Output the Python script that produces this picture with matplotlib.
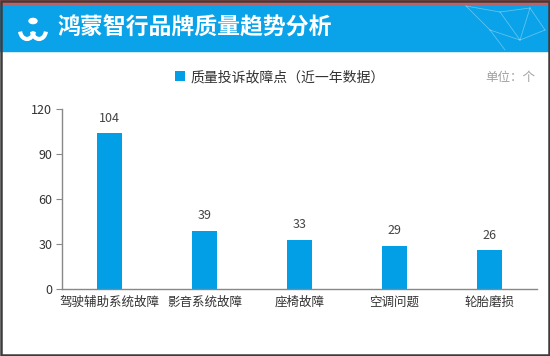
import matplotlib
matplotlib.use("Agg")
import matplotlib.pyplot as plt
from matplotlib.patches import Rectangle, Circle, Arc
from matplotlib.lines import Line2D

plt.rcParams['font.family'] = ['Noto Sans CJK SC', 'DejaVu Sans']

categories = ["驾驶辅助系统故障", "影音系统故障", "座椅故障", "空调问题", "轮胎磨损"]
counts = [104, 39, 33, 29, 26]
yticks = [0, 30, 60, 90, 120]

title = "鸿蒙智行品牌质量趋势分析"
series_name = "质量投诉故障点（近一年数据）"
unit = "单位：个"

bar_color = "#039fe6"
W, H = 550, 356

fig = plt.figure(figsize=(5.5, 3.56), dpi=100)
fig.patch.set_facecolor("white")

# header: red strip + blue band
fig.patches.append(Rectangle((0, 1 - 5 / H), 1, 5 / H, transform=fig.transFigure,
                             color="#e4544f", zorder=0))
fig.patches.append(Rectangle((0, 1 - 51 / H), 1, 46 / H, transform=fig.transFigure,
                             color="#0aa2e8", zorder=0))

# faint network decoration in the header corner
net = [((466, 6), (500, 12)), ((500, 12), (530, 8)), ((500, 12), (520, 40)),
       ((466, 6), (490, 30)), ((490, 30), (520, 40)), ((530, 8), (545, 30)),
       ((520, 40), (545, 30)), ((490, 30), (505, 50)), ((530, 8), (520, 40))]
for (x0, y0), (x1, y1) in net:
    fig.lines.append(Line2D([x0 / W, x1 / W], [1 - y0 / H, 1 - y1 / H], transform=fig.transFigure,
                            color="white", alpha=0.35, linewidth=0.6))

# outer border
fig.patches.append(Rectangle((1 / W, 1 / H), 1 - 2 / W, 1 - 2 / H, transform=fig.transFigure,
                             fill=False, edgecolor="#3c3c3c", linewidth=1.8, zorder=5))

# rough logo
lx = 33 / W
fig.patches.append(Circle((lx, 1 - 21 / H), 4 / W, transform=fig.transFigure, color="white"))
fig.patches.append(Arc((lx - 6 / W, 1 - 30 / H), 14 / W, 18 / H, theta1=200, theta2=340,
                       transform=fig.transFigure, color="white", linewidth=3))
fig.patches.append(Arc((lx + 6 / W, 1 - 30 / H), 14 / W, 18 / H, theta1=200, theta2=340,
                       transform=fig.transFigure, color="white", linewidth=3))

fig.text(57 / W, 1 - 28 / H, title, color="white", fontsize=16.5, fontweight="bold",
         va="center", ha="left")

ax = fig.add_axes([62 / W, (H - 289) / H, 475 / W, 180 / H])
x = range(len(categories))
bars = ax.bar(x, counts, width=0.27, color=bar_color, label=series_name)
for xi, v in zip(x, counts):
    ax.annotate(str(v), (xi, v), xytext=(0, 6), textcoords="offset points",
                ha="center", va="bottom", fontsize=9, color="#444444")

ax.set_xlim(-0.5, len(categories) - 0.5)
ax.set_ylim(0, 120)
ax.set_yticks(yticks)
ax.set_xticks(list(x))
ax.set_xticklabels(categories)
ax.tick_params(axis="x", length=0, pad=5, labelsize=9, labelcolor="#333333")
ax.tick_params(axis="y", length=4, width=0.8, color="#888888", pad=3,
               labelsize=9, labelcolor="#333333")
for s in ["top", "right"]:
    ax.spines[s].set_visible(False)
for s in ["left", "bottom"]:
    ax.spines[s].set_color("#888888")
    ax.spines[s].set_linewidth(1.0)

fig.legend(handles=[bars], labels=[series_name], loc="center", bbox_to_anchor=(280 / W, 1 - 77 / H),
           frameon=False, fontsize=10, handlelength=0.7, handleheight=0.7, handletextpad=0.4,
           labelcolor="#333333")
fig.text(535 / W, 1 - 77 / H, unit, ha="right", va="center", fontsize=9, color="#a0a0a0")

fig.savefig("out.png", dpi=100)
